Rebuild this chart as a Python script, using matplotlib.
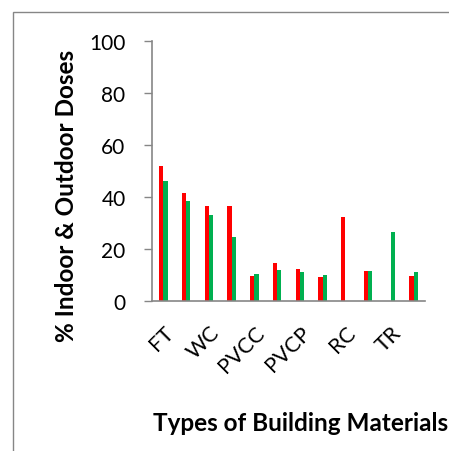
import matplotlib.pyplot as plt
import numpy as np
from matplotlib.patches import Rectangle

plt.rcParams['font.family'] = ['Lato', 'DejaVu Sans']

# 12 materials; only every second name is shown on the axis
categories = ['FT', '', 'WC', '', 'PVCC', '', 'PVCP', '', 'RC', '', 'TR', '']
indoor = [52.1, 41.4, 36.4, 36.4, 9.7, 14.5, 12.4, 9.3, 32.5, 11.5, 0, 9.7]
outdoor = [46.1, 38.4, 33.1, 24.6, 10.4, 12.0, 11.1, 10.1, 0, 11.5, 26.5, 11.1]

W, H = 449, 452
fig = plt.figure(figsize=(W / 100, H / 100), dpi=100)
ax = fig.add_axes([152 / W, 1 - 302 / H, (425 - 152) / W, (302 - 42) / H])

x = np.arange(len(categories))
bw = 0.19
ax.bar(x - bw / 2, indoor, bw, color='#FF0000')
ax.bar(x + bw / 2, outdoor, bw, color='#00B050')

ax.set_xlim(-0.5, len(categories) - 0.5)
ax.set_ylim(0, 100)
ax.set_yticks(range(0, 101, 20))
ax.set_xticks(x[::2])
ax.set_xticklabels(categories[::2], rotation=45, ha='right',
                   rotation_mode='anchor', fontsize=15.5)
ax.tick_params(axis='y', labelsize=15, length=6, width=1, color='#868686', pad=13)
ax.tick_params(axis='x', length=0, pad=15)

for side in ['top', 'right']:
    ax.spines[side].set_visible(False)
for side in ['left', 'bottom']:
    ax.spines[side].set_color('#868686')
    ax.spines[side].set_linewidth(1.2)

fig.text(67 / W, 1 - 196 / H, '% Indoor & Outdoor Doses', rotation=90,
         fontsize=17.5, fontweight='bold', va='center', ha='center')
fig.text(153 / W, 1 - 424 / H, 'Types of Building Materials',
         fontsize=17.5, fontweight='bold', va='center', ha='left')

# chart area frame, running off the right and bottom edges
fig.patches.append(Rectangle((12.5 / W, -0.1), 1.2, 1.1 - 12.5 / H,
                             transform=fig.transFigure, fill=False,
                             edgecolor='#868686', linewidth=1))

fig.savefig('out.png', dpi=100, facecolor='white')
